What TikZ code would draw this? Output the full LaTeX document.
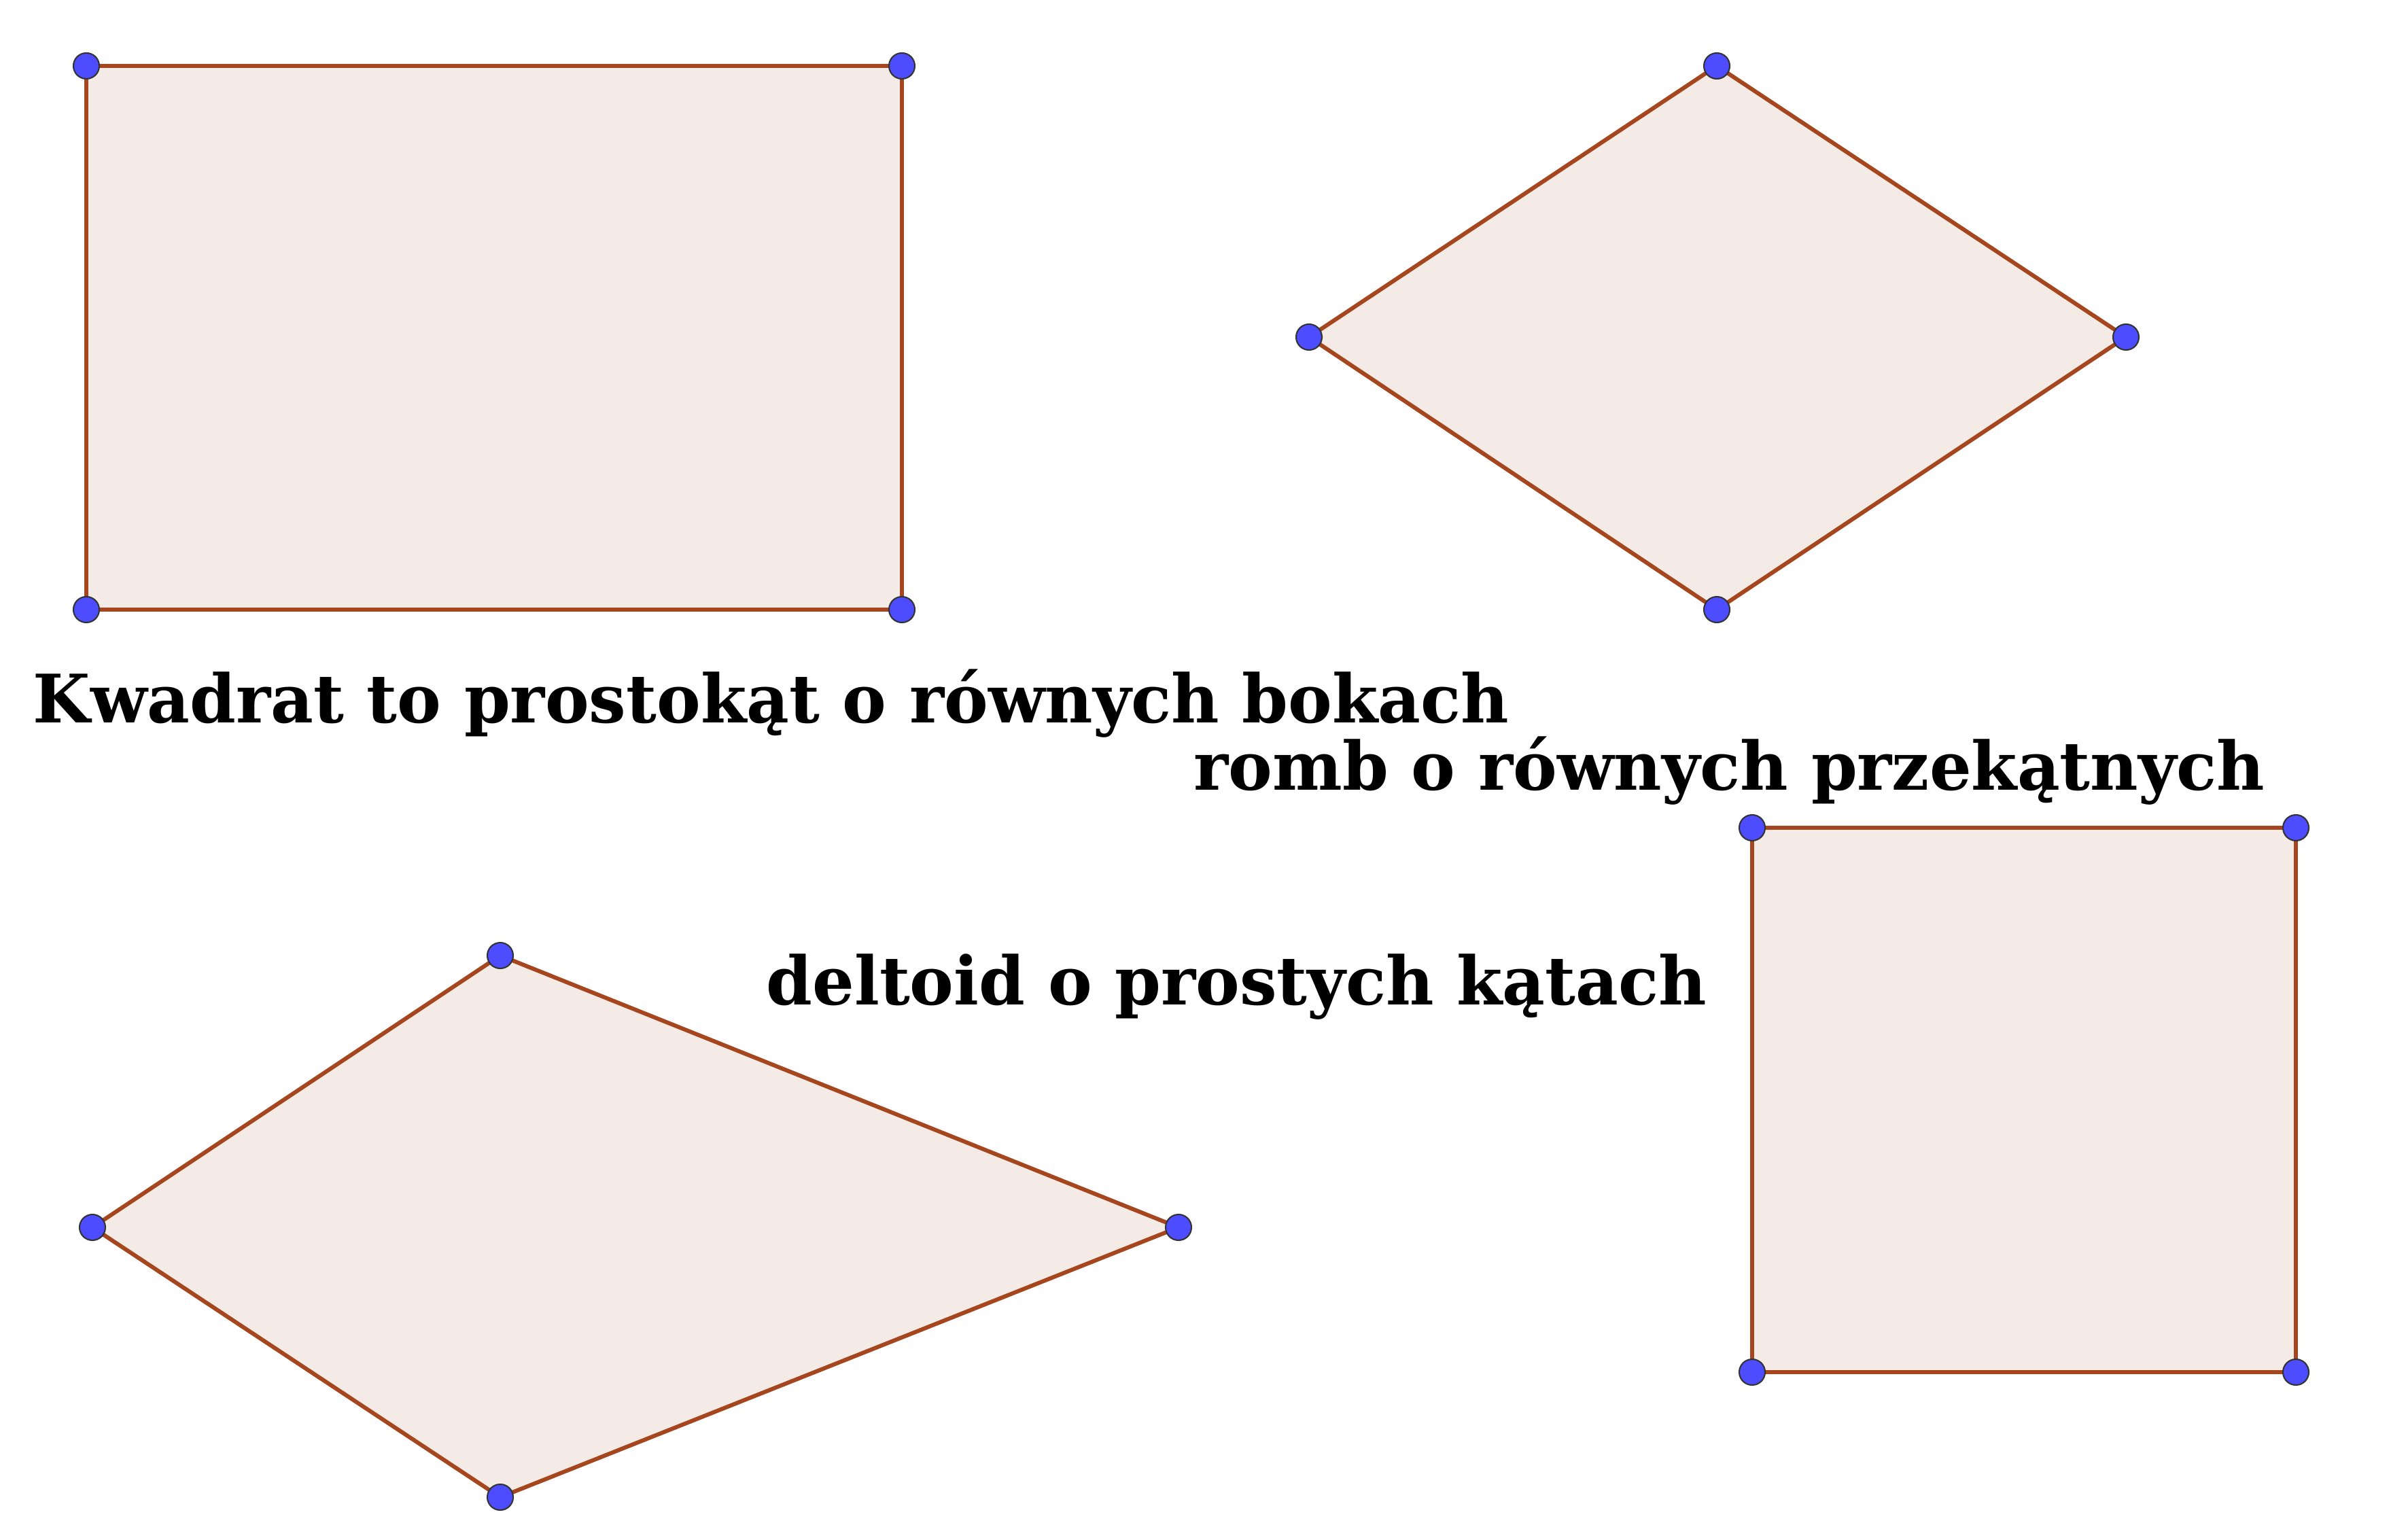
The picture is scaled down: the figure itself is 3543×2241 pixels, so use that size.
\documentclass[tikz,border=0pt]{standalone}
\usepackage{fontspec}
\setmainfont{DejaVu Serif}
\newfontfamily\napisy[FakeStretch=0.986]{DejaVu Serif}
\definecolor{bok}{RGB}{165,70,30}
\definecolor{wnetrze}{RGB}{245,235,230}
\definecolor{punkt}{RGB}{77,77,255}
\tikzset{
  figura/.style={draw=bok, fill=wnetrze, line width=1.7pt, line join=round},
  wierzcholek/.style={fill=punkt, draw=black!80, line width=0.6pt},
  podpis/.style={anchor=base west, inner sep=0pt, font=\napisy\bfseries\fontsize{28}{30}\selectfont}
}
\begin{document}
\begin{tikzpicture}[x=0.1mm,y=-0.1mm]
        \useasboundingbox[fill=white] (0,0) rectangle (3543,2241);

        % Prostokat
        \coordinate (pA) at (127,97);
        \coordinate (pB) at (1327,97);
        \coordinate (pC) at (1327,897);
        \coordinate (pD) at (127,897);
        \draw[figura] (pA) -- (pB) -- (pC) -- (pD) -- cycle;

        % Romb
        \coordinate (rA) at (2526,97);
        \coordinate (rB) at (3128,496);
        \coordinate (rC) at (2526,897);
        \coordinate (rD) at (1926,496);
        \draw[figura] (rA) -- (rB) -- (rC) -- (rD) -- cycle;

        % Kwadrat
        \coordinate (kA) at (2578,1218);
        \coordinate (kB) at (3378,1218);
        \coordinate (kC) at (3378,2019);
        \coordinate (kD) at (2578,2019);
        \draw[figura] (kA) -- (kB) -- (kC) -- (kD) -- cycle;

        % Deltoid
        \coordinate (dA) at (736,1406);
        \coordinate (dB) at (1734,1806);
        \coordinate (dC) at (736,2203);
        \coordinate (dD) at (136,1806);
        \draw[figura] (dA) -- (dB) -- (dC) -- (dD) -- cycle;

        % Wierzcholki
        \foreach \p in {pA,pB,pC,pD,rA,rB,rC,rD,kA,kB,kC,kD,dA,dB,dC,dD}
            \draw[wierzcholek] (\p) circle (19);

        % Podpisy
        \node[podpis] (kwadrat) at (48,1063) {Kwadrat to prostokąt o równych bokach};
        \node[podpis] (romb) at (1756,1162) {romb o równych przekątnych};
        \node[podpis] (deltoid) at (1127,1478) {deltoid o prostych kątach};
\end{tikzpicture}
\end{document}
